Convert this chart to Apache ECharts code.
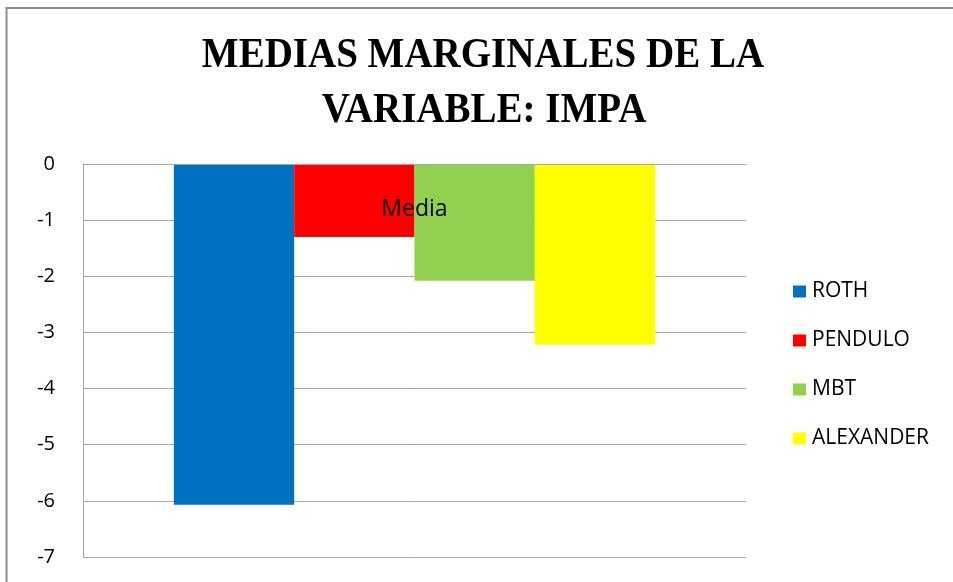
<!DOCTYPE html>
<html>
<head>
<meta charset="utf-8">
<script src="https://cdn.jsdelivr.net/npm/echarts@6/dist/echarts.min.js"></script>
<style>html,body{margin:0;padding:0;background:#fff}#c{width:953px;height:582px}</style>
</head>
<body>
<div id="c"></div>
<script>
const titleLines = ['MEDIAS MARGINALES DE LA', 'VARIABLE: IMPA'];
const categories = ['Media'];
const seriesNames = ['ROTH', 'PENDULO', 'MBT', 'ALEXANDER'];
const seriesValues = [[-6.07], [-1.30], [-2.08], [-3.22]];
const seriesColors = ['#0070C0', '#FF0000', '#92D050', '#FFFF00'];
const yTicks = { min: -7, max: 0, interval: 1 };

const chart = echarts.init(document.getElementById('c'));
const font = '"Open Sans", sans-serif';
chart.setOption({
  animation: false,
  backgroundColor: '#fff',
  graphic: [
    { type: 'rect', silent: true, shape: { x: 6.5, y: 8, width: 1200, height: 1200 },
      style: { fill: 'none', stroke: '#8c8c8c', lineWidth: 2 } },
    { type: 'text', x: 483, y: 56, scaleY: 1.07,
      style: { text: titleLines[0], font: 'bold 39px "Liberation Serif", serif', fill: '#000', textAlign: 'center', textVerticalAlign: 'middle' } },
    { type: 'text', x: 484, y: 111, scaleY: 1.07,
      style: { text: titleLines[1], font: 'bold 39px "Liberation Serif", serif', fill: '#000', textAlign: 'center', textVerticalAlign: 'middle' } }
  ],
  grid: { left: 83, right: 207, top: 164, bottom: 25, containLabel: false },
  legend: {
    orient: 'vertical', left: 788, top: 276,
    itemWidth: 13, itemHeight: 12, itemGap: 28, icon: 'rect',
    data: seriesNames,
    textStyle: { fontFamily: font, fontSize: 21, color: '#000', lineHeight: 20, padding: [0, 0, 0, 1] }
  },
  xAxis: {
    type: 'category', data: categories, position: 'top', z: 10,
    axisLine: { show: true, lineStyle: { color: '#a6a6a6', width: 1 } },
    axisTick: { show: false },
    axisLabel: { inside: true, margin: 45, verticalAlign: 'middle', fontFamily: font, fontSize: 23, color: '#000' }
  },
  yAxis: {
    type: 'value', min: yTicks.min, max: yTicks.max, interval: yTicks.interval,
    axisLine: { show: true, lineStyle: { color: '#a6a6a6', width: 1 } },
    axisTick: { show: false },
    splitLine: { show: true, lineStyle: { color: '#a6a6a6', width: 1 } },
    axisLabel: { margin: 28, fontFamily: font, fontSize: 20, color: '#000' }
  },
  series: seriesNames.map((n, i) => ({
    name: n, type: 'bar', data: seriesValues[i],
    itemStyle: { color: seriesColors[i] },
    barGap: '0%', barCategoryGap: '27.4%'
  }))
});
</script>
</body>
</html>
